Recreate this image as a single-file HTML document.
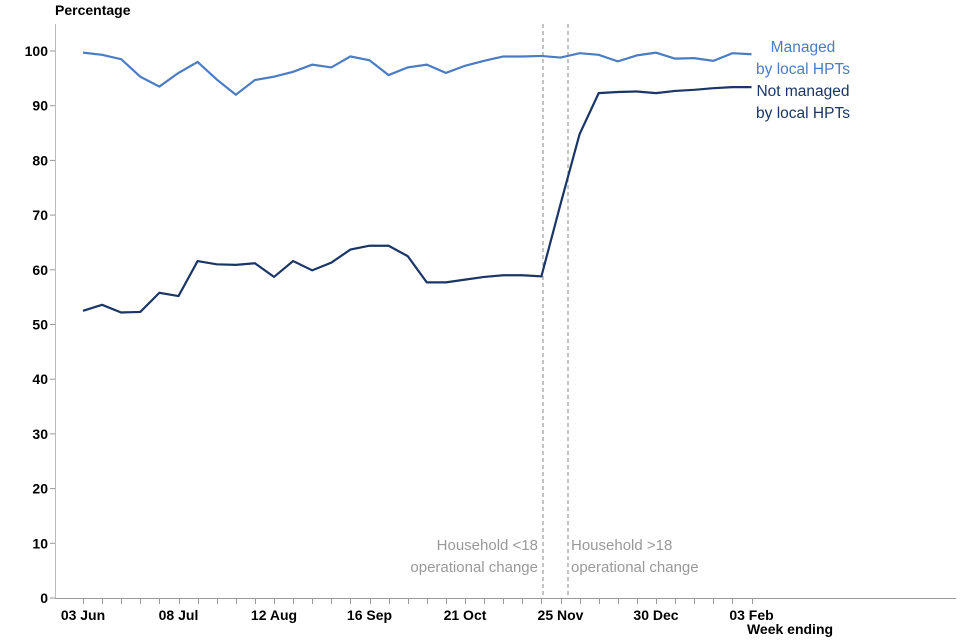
<!DOCTYPE html>
<html><head><meta charset="utf-8"><style>
html,body{margin:0;padding:0;background:#fff;}
svg{display:block;font-family:"Liberation Sans",Arial,sans-serif;}
</style></head><body>
<svg id="s" width="960" height="640" viewBox="0 0 960 640" xmlns="http://www.w3.org/2000/svg">
<text x="55" y="15" font-size="14" font-weight="bold" fill="#000">Percentage</text>
<line x1="55.5" y1="24" x2="55.5" y2="598" stroke="#bbb" stroke-width="1"/>
<line x1="55" y1="598.5" x2="956" y2="598.5" stroke="#999" stroke-width="1"/>
<g id="yt" font-size="14" font-weight="bold" text-anchor="end"></g>
<g id="xt"></g>
<g font-size="14" font-weight="bold" text-anchor="middle">
<text x="83" y="620">03 Jun</text>
<text x="178.5" y="620">08 Jul</text>
<text x="274" y="620">12 Aug</text>
<text x="369.5" y="620">16 Sep</text>
<text x="465" y="620">21 Oct</text>
<text x="560.5" y="620">25 Nov</text>
<text x="656" y="620">30 Dec</text>
<text x="751.5" y="620">03 Feb</text>
</g>
<text x="790" y="634" font-size="14" font-weight="bold" text-anchor="middle">Week ending</text>
<line x1="543" y1="24" x2="543" y2="598" stroke="#888" stroke-dasharray="4,3" stroke-width="1"/>
<line x1="568" y1="24" x2="568" y2="598" stroke="#888" stroke-dasharray="4,3" stroke-width="1"/>
<g font-size="15" fill="#999">
<text x="538" y="550" text-anchor="end">Household &lt;18</text>
<text x="538" y="572" text-anchor="end">operational change</text>
<text x="571" y="550">Household &gt;18</text>
<text x="571" y="572">operational change</text>
</g>
<polyline id="l1" fill="none" stroke="#4a7cc4" stroke-width="2.2"/>
<polyline id="l2" fill="none" stroke="#1a3566" stroke-width="2.2"/>
<g font-size="15.5" text-anchor="middle">
<text x="803" y="52" fill="#4a7cc4">Managed</text>
<text x="803" y="74" fill="#4a7cc4">by local HPTs</text>
<text x="803" y="96" fill="#1a3566">Not managed</text>
<text x="803" y="118" fill="#1a3566">by local HPTs</text>
</g>
</svg>
<script>
var Y=v=>598-5.47*v, X=i=>83+19.1*i;
var a=[99.7,99.3,98.5,95.3,93.5,96,98,94.8,92,94.7,95.3,96.2,97.5,97,99,98.3,95.6,97,97.5,96,97.3,98.2,99,99,99.1,98.8,99.6,99.3,98.1,99.2,99.7,98.6,98.7,98.2,99.6,99.4];
var b=[52.5,53.6,52.2,52.3,55.8,55.2,61.6,61,60.9,61.2,58.7,61.6,59.9,61.3,63.7,64.4,64.4,62.5,57.7,57.7,58.2,58.7,59,59,58.8,72,84.8,92.3,92.5,92.6,92.3,92.7,92.9,93.2,93.4,93.4];
document.getElementById('l1').setAttribute('points',a.map((v,i)=>X(i)+','+Y(v)).join(' '));
document.getElementById('l2').setAttribute('points',b.map((v,i)=>X(i)+','+Y(v)).join(' '));
var ns='http://www.w3.org/2000/svg',yt=document.getElementById('yt'),xt=document.getElementById('xt');
for(var v=0;v<=100;v+=10){var y=Y(v);
var l=document.createElementNS(ns,'line');l.setAttribute('x1',50);l.setAttribute('x2',55);l.setAttribute('y1',y);l.setAttribute('y2',y);l.setAttribute('stroke','#999');yt.appendChild(l);
var t=document.createElementNS(ns,'text');t.setAttribute('x',48);t.setAttribute('y',y+5);t.textContent=v;yt.appendChild(t);}
for(var i=0;i<36;i++){var x=Math.round(X(i))+0.5;var l=document.createElementNS(ns,'line');l.setAttribute('x1',x);l.setAttribute('x2',x);l.setAttribute('y1',598);l.setAttribute('y2',604);l.setAttribute('stroke','#999');xt.appendChild(l);}
</script>
</body></html>
